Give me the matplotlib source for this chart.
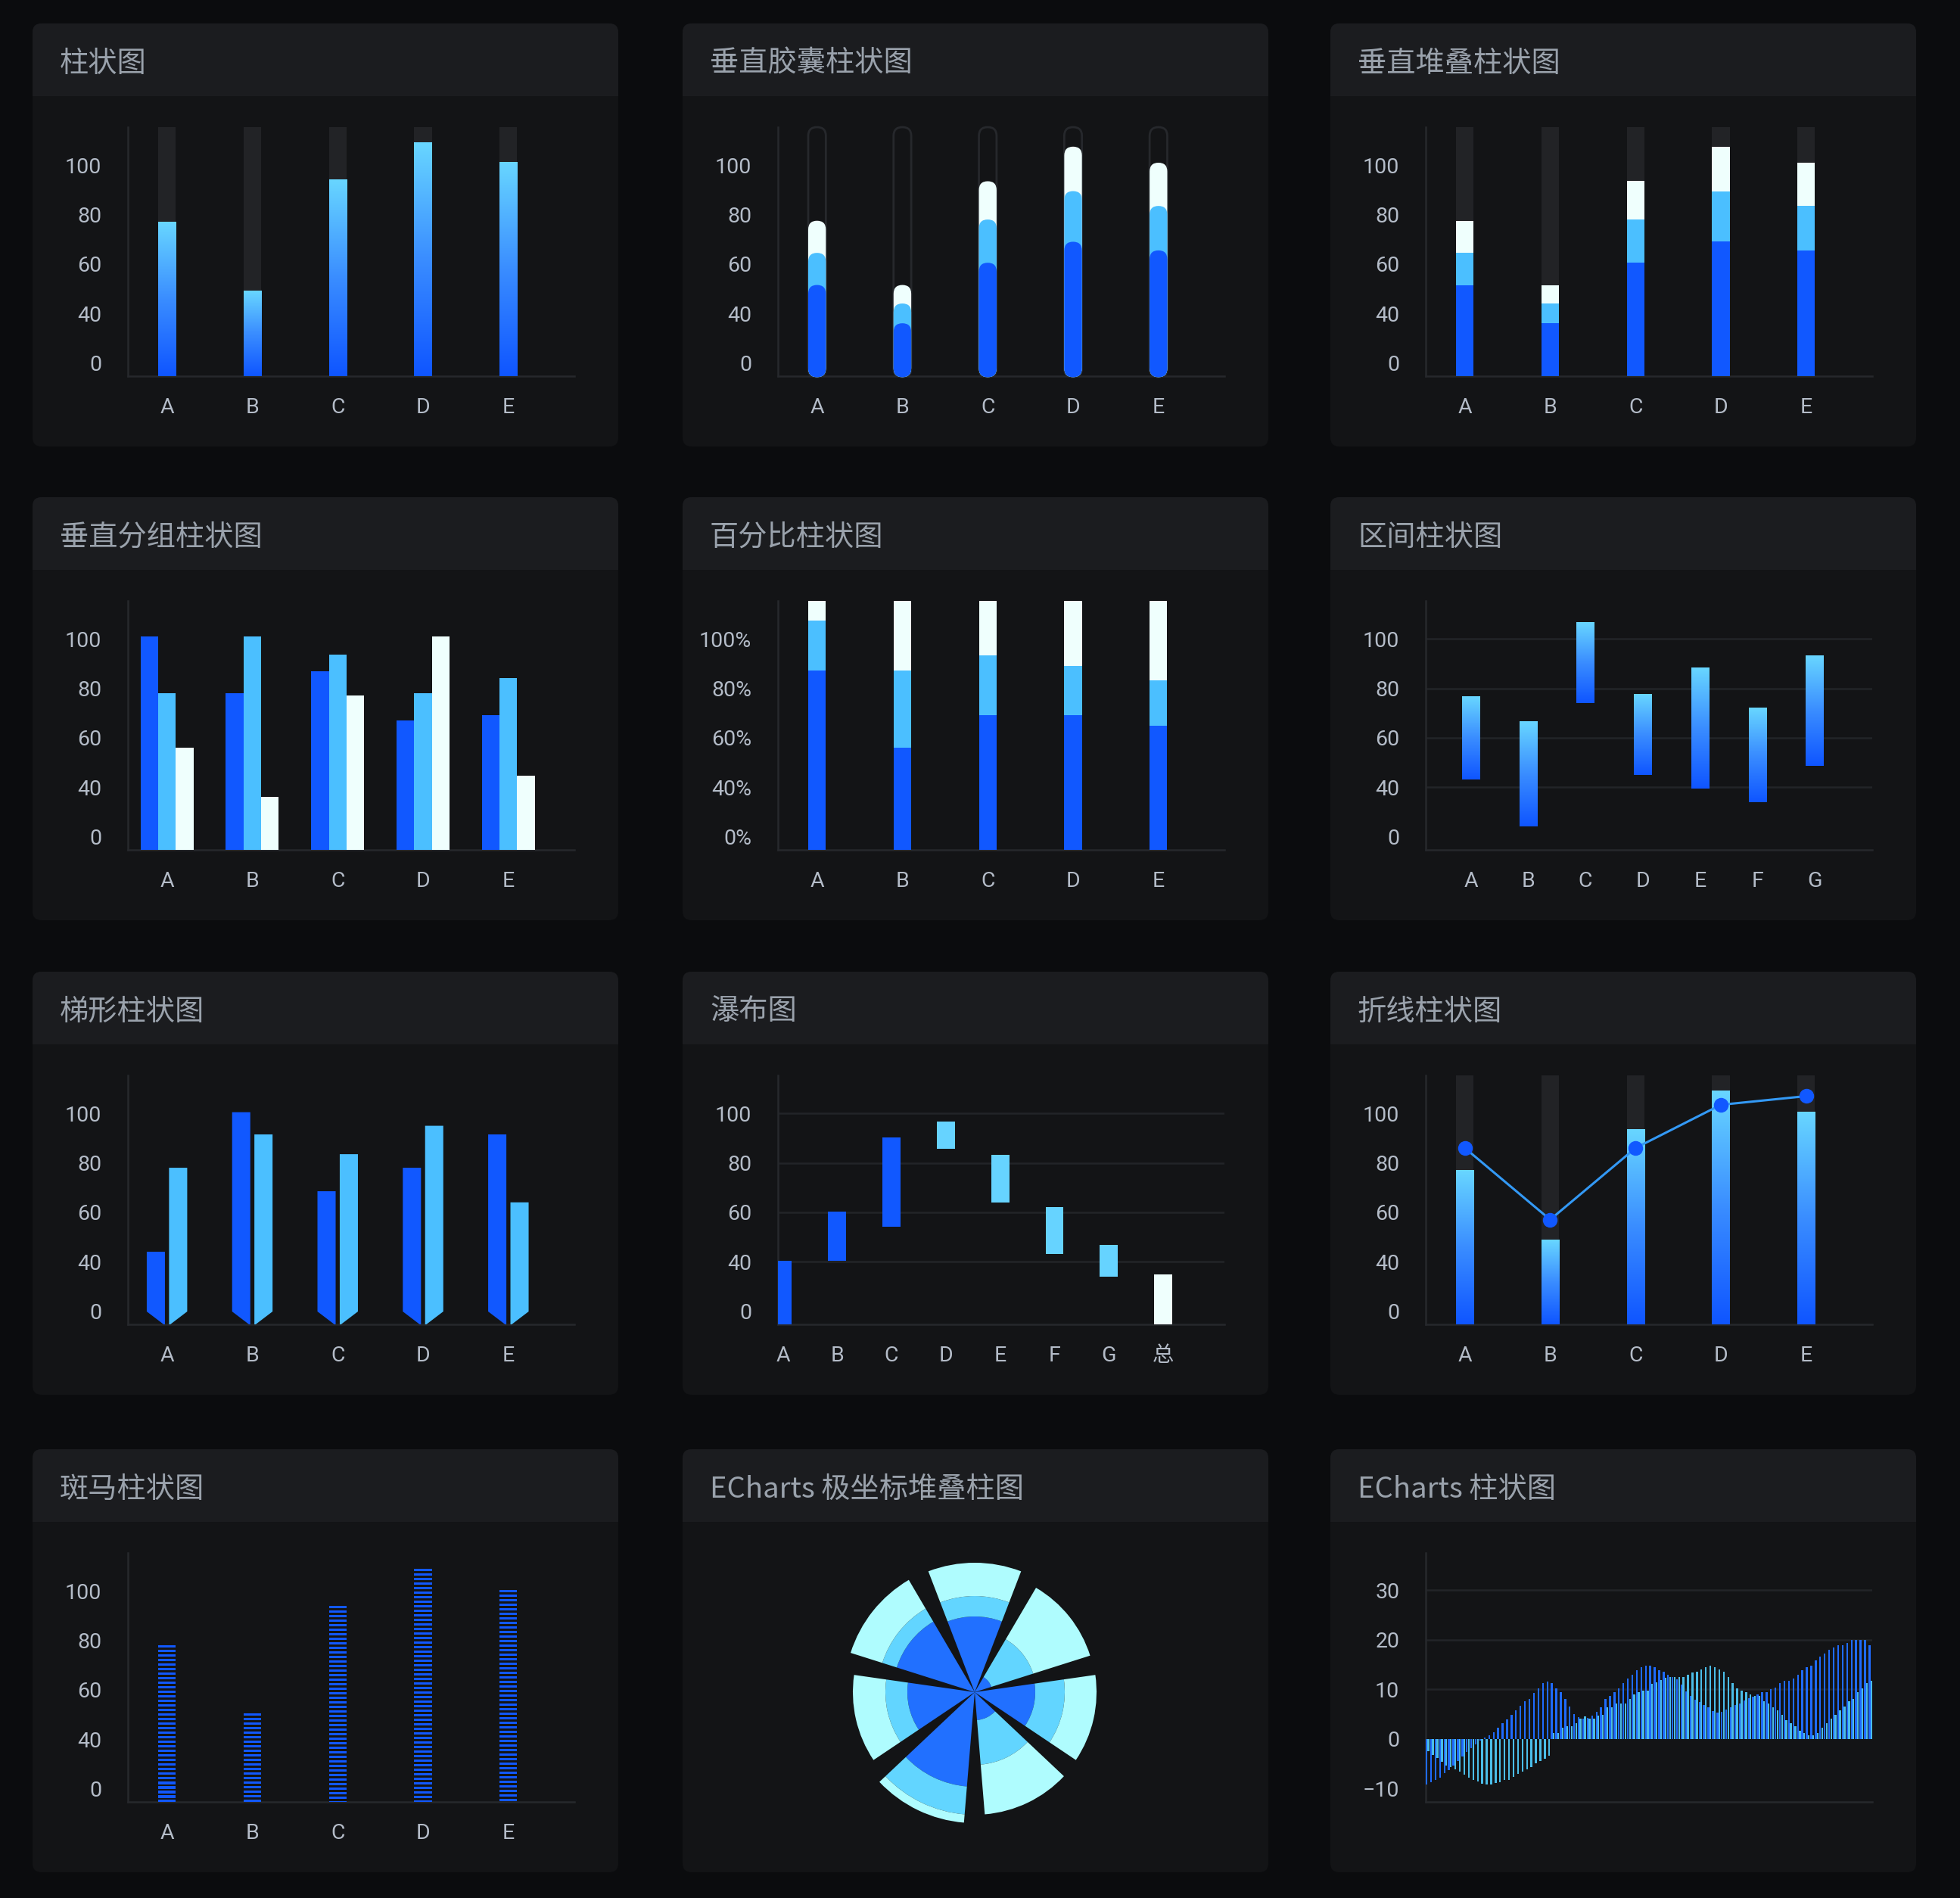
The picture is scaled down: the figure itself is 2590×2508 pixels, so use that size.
import numpy as np
import matplotlib
matplotlib.use('Agg')
import matplotlib.pyplot as plt
from matplotlib.patches import FancyBboxPatch, Rectangle, Polygon
from matplotlib.colors import LinearSegmentedColormap

plt.rcParams['font.family'] = ['Roboto', 'Noto Sans CJK SC', 'DejaVu Sans']

# ---------------- data ----------------
titles = ['柱状图', '垂直胶囊柱状图', '垂直堆叠柱状图',
          '垂直分组柱状图', '百分比柱状图', '区间柱状图',
          '梯形柱状图', '瀑布图', '折线柱状图',
          '斑马柱状图', 'ECharts 极坐标堆叠柱图', 'ECharts 柱状图']
categories = ['A', 'B', 'C', 'D', 'E']
range_categories = ['A', 'B', 'C', 'D', 'E', 'F', 'G']
waterfall_categories = ['A', 'B', 'C', 'D', 'E', 'F', 'G', '总']
tick_values = [20, 40, 60, 80, 100]
tick_labels = ['0', '40', '60', '80', '100']
pct_tick_labels = ['0%', '40%', '60%', '80%', '100%']

bar_values = [77, 49, 94, 109, 101]
capsule_blue = [51.5, 36, 60.5, 69, 65.5]
capsule_light = [13, 8, 17.5, 20.5, 18]
capsule_white = [13, 7.5, 15.5, 18, 17.5]
group_blue = [101, 78, 87, 67, 69]
group_light = [78, 101, 93.5, 78, 84]
group_white = [56, 36, 77, 101, 44.5]
pct_blue = [72, 41, 54, 54, 50]
pct_light = [20, 31, 24, 20, 18]
pct_white = [8, 28, 22, 26, 32]
range_low = [43, 24, 74, 45, 39.5, 34, 48.5]
range_high = [76.5, 66.5, 106.5, 77.5, 88.5, 72, 93]
trap_blue = [44, 100.5, 68.5, 78, 91.5]
trap_light = [78, 91.5, 83.5, 95, 64]
wf_low = [0, 40.3, 54, 85.8, 63.9, 43, 34, 0]
wf_high = [40.3, 60.2, 90.3, 96.8, 83.1, 62.2, 46.7, 34.8]
wf_kind = ['up', 'up', 'up', 'down', 'down', 'down', 'down', 'total']
linebar_bars = [77, 48.7, 93.4, 109, 100.6]
linebar_line = [86, 57, 86, 103.5, 107]
zebra_values = [78, 50.5, 94, 109, 100.5]
polar_dark = [10.0, 2.3, 8.0, 3.7, 12.5, 8.9, 10.8]
polar_mid = [2.7, 5.8, 3.9, 5.9, 3.7, 2.9, 2.0]
polar_light = [4.4, 7.9, 4.2, 6.6, 1.1, 4.3, 4.4]
echarts_a = [-9.2, -8.7, -8.3, -7.8, -6.9, -6.3, -5.4, -4.5, -3.6, -2.7,
             -1.9, -1.1, -0.4, 0.3, 0.8, 1.3, 2.2, 3.1, 3.9, 4.9,
             5.7, 6.7, 7.6, 8.1, 9.3, 10.2, 11.2, 11.6, 11.2, 10.2,
             9.4, 8.0, 6.6, 5.0, 4.4, 4.1, 4.2, 4.7, 5.5, 6.4,
             8.0, 8.6, 9.4, 10.2, 11.2, 12.1, 13.0, 13.9, 14.4, 14.7,
             14.7, 14.4, 13.9, 13.5, 13.0, 12.5, 12.0, 11.0, 9.6, 8.6,
             7.9, 7.4, 6.9, 6.3, 5.6, 5.3, 5.4, 5.9, 6.4, 6.8,
             7.2, 7.8, 8.2, 8.5, 9.0, 9.4, 9.4, 10.0, 10.4, 11.3,
             11.7, 11.7, 12.1, 13.0, 13.9, 14.4, 14.8, 15.8, 16.6, 17.2,
             18.0, 18.5, 18.9, 18.9, 19.3, 19.9, 19.9, 19.9, 19.9, 18.9]
echarts_b = [-2.5, -3.3, -3.8, -4.6, -5.3, -5.7, -6.1, -6.6, -7.2, -7.8,
             -8.3, -8.6, -9.0, -9.2, -9.2, -8.9, -8.7, -8.3, -8.2, -7.6,
             -7.1, -6.6, -6.2, -5.7, -4.9, -4.4, -4.0, -3.4, 1.2, 1.2,
             2.2, 2.6, 2.6, 3.1, 4.1, 4.5, 4.1, 4.1, 4.7, 4.9,
             6.3, 6.3, 7.1, 7.1, 7.1, 8.0, 9.0, 9.4, 9.8, 9.8,
             11.1, 11.4, 11.8, 12.3, 12.5, 12.5, 12.5, 12.5, 12.9, 13.4,
             13.5, 14.0, 14.4, 14.8, 14.4, 14.0, 13.5, 12.5, 11.2, 10.2,
             9.8, 9.4, 9.0, 8.6, 8.6, 7.6, 7.1, 6.3, 5.7, 4.9,
             3.8, 3.1, 2.5, 1.7, 1.2, 0.8, 0.8, 1.2, 2.2, 3.1,
             4.1, 4.9, 5.7, 6.6, 7.6, 8.0, 9.4, 10.2, 11.2, 11.7]
echarts_ticks = [-10, 0, 10, 20, 30]
echarts_tick_labels = ['\u221210', '0', '10', '20', '30']

# ---------------- style ----------------
W, H = 2590, 2508
FIG_BG = '#0b0c0e'
CARD_BG = '#131416'
HEAD_BG = '#1b1c1f'
BLUE = '#1158ff'
LIGHT = '#4bbfff'
WHITE = '#effffd'
CYAN = '#66d3ff'
SHADOW = '#222326'
AXIS = '#26282c'
GRID = '#222428'
TXT = '#b4bcc8'
TITLE = '#9aa2ac'
YLIM = (14.6, 115.4)

CARD_X = [43, 902, 1758]
CARD_Y = [31, 657, 1284, 1915]
CARD_W, CARD_H, HEAD_H = 774, 559, 96
AX_L, AX_T, AX_W, AX_H = 126, 137, 590, 329

grad_cmap = LinearSegmentedColormap.from_list('g', ['#0f55ff', '#3a8dff', '#68d6ff'])
grad_img = np.linspace(0, 1, 256).reshape(-1, 1)

fig = plt.figure(figsize=(W / 100, H / 100), dpi=100)
fig.patch.set_facecolor(FIG_BG)

bg = fig.add_axes([0, 0, 1, 1])
bg.set_xlim(0, W)
bg.set_ylim(H, 0)
bg.axis('off')
bg.set_zorder(-5)

for idx, title in enumerate(titles):
    r, c = divmod(idx, 3)
    x0, y0 = CARD_X[c], CARD_Y[r]
    bg.add_patch(FancyBboxPatch((x0, y0), CARD_W, CARD_H,
                                boxstyle='round,pad=0,rounding_size=12',
                                fc=CARD_BG, ec='none'))
    bg.add_patch(FancyBboxPatch((x0, y0), CARD_W, HEAD_H,
                                boxstyle='round,pad=0,rounding_size=12',
                                fc=HEAD_BG, ec='none'))
    bg.add_patch(Rectangle((x0, y0 + HEAD_H / 2), CARD_W, HEAD_H / 2,
                           fc=HEAD_BG, ec='none'))
    bg.text(x0 + 36, y0 + HEAD_H / 2 + 5, title, ha='left', va='center',
            fontsize=27.5, color=TITLE,
            family=['Noto Sans CJK SC', 'DejaVu Sans'])


def make_ax(r, c):
    x0, y0 = CARD_X[c], CARD_Y[r]
    return fig.add_axes([(x0 + AX_L) / W, 1 - (y0 + AX_T + AX_H) / H,
                         AX_W / W, AX_H / H])


def style_ax(ax, xlim, cats, ylim=YLIM, yt=tick_values, ytl=tick_labels):
    ax.set_facecolor('none')
    ax.set_xlim(*xlim)
    ax.set_ylim(*ylim)
    for s in ['top', 'right']:
        ax.spines[s].set_visible(False)
    for s in ['left', 'bottom']:
        ax.spines[s].set_color(AXIS)
        ax.spines[s].set_linewidth(1.8)
        ax.spines[s].set_zorder(1)
    ax.set_yticks(yt)
    ax.set_yticklabels(ytl)
    if cats is not None:
        ax.set_xticks(range(len(cats)))
        ax.set_xticklabels(cats)
    else:
        ax.set_xticks([])
    ax.tick_params(axis='both', length=0, colors=TXT, labelsize=20.5)
    ax.tick_params(axis='y', pad=25)
    ax.tick_params(axis='x', pad=20)


def gradient_bars(ax, x, bottoms, tops, width):
    bottoms = np.broadcast_to(np.asarray(bottoms, float), np.shape(tops))
    bars = ax.bar(x, np.asarray(tops, float) - bottoms, width, bottom=bottoms,
                  color='none', linewidth=0)
    for b in bars:
        bx, by = b.get_x(), b.get_y()
        ax.imshow(grad_img, cmap=grad_cmap, origin='lower', aspect='auto',
                  extent=(bx, bx + b.get_width(), by, by + b.get_height()),
                  zorder=3, interpolation='bilinear')


X5 = (-0.458, 4.773)
W5 = 0.207
x5 = np.arange(len(categories))

# 1. 柱状图
ax = make_ax(0, 0)
ax.bar(x5, YLIM[1], W5, color=SHADOW, zorder=2)
gradient_bars(ax, x5, YLIM[0], bar_values, W5)
style_ax(ax, X5, categories)

# 2. 垂直胶囊柱状图
ax = make_ax(0, 1)
style_ax(ax, X5, categories)
aspect = ((YLIM[1] - YLIM[0]) / AX_H) / ((X5[1] - X5[0]) / AX_W)
base = YLIM[0] - 0.4
cb = np.array(capsule_blue)
cl = cb + np.array(capsule_light)
cw = cl + np.array(capsule_white)
for i in x5:
    ax.add_patch(FancyBboxPatch((i - W5 / 2, base), W5, YLIM[1] - base,
                                boxstyle=f'round,pad=0,rounding_size={W5/2}',
                                mutation_aspect=aspect, fc='none', ec=AXIS,
                                lw=2, zorder=2, clip_on=False))
    for top, col in [(cw[i], WHITE), (cl[i], LIGHT), (cb[i], BLUE)]:
        ax.add_patch(FancyBboxPatch((i - W5 / 2, base), W5, top - base,
                                    boxstyle=f'round,pad=0,rounding_size={W5/2}',
                                    mutation_aspect=aspect, fc=col, ec='none',
                                    zorder=3, clip_on=False))

# 3. 垂直堆叠柱状图
ax = make_ax(0, 2)
ax.bar(x5, YLIM[1], W5, color=SHADOW, zorder=2)
ax.bar(x5, capsule_blue, W5, color=BLUE, zorder=3)
ax.bar(x5, capsule_light, W5, bottom=cb, color=LIGHT, zorder=3)
ax.bar(x5, capsule_white, W5, bottom=cl, color=WHITE, zorder=3)
style_ax(ax, X5, categories)

# 4. 垂直分组柱状图
ax = make_ax(1, 0)
ax.bar(x5 - W5, group_blue, W5, color=BLUE, zorder=3)
ax.bar(x5, group_light, W5, color=LIGHT, zorder=3)
ax.bar(x5 + W5, group_white, W5, color=WHITE, zorder=3)
style_ax(ax, X5, categories)

# 5. 百分比柱状图
ax = make_ax(1, 1)
pb = np.array(pct_blue, float)
pl = np.array(pct_light, float)
pw = np.array(pct_white, float)
ax.bar(x5, pb, W5, color=BLUE, zorder=3)
ax.bar(x5, pl, W5, bottom=pb, color=LIGHT, zorder=3)
ax.bar(x5, pw, W5, bottom=pb + pl, color=WHITE, zorder=3)
pct_ticks = [(v - YLIM[0]) / (YLIM[1] - YLIM[0]) * 100 for v in tick_values]
style_ax(ax, X5, categories, ylim=(0, 100), yt=pct_ticks, ytl=pct_tick_labels)

# 6. 区间柱状图
X7 = (-0.787, 7.003)
W7 = 0.31
x7 = np.arange(len(range_categories))
ax = make_ax(1, 2)
for v in tick_values[1:]:
    ax.axhline(v, color=GRID, lw=1.8, zorder=1)
gradient_bars(ax, x7, range_low, range_high, W7)
style_ax(ax, X7, range_categories)

# 7. 梯形柱状图
ax = make_ax(2, 0)
TW, TG, CUT = 0.213, 0.048, 5.6
low = YLIM[0] - 0.4
for i in x5:
    xl, xr = i - TG / 2 - TW, i - TG / 2
    ax.add_patch(Polygon([(xl, trap_blue[i]), (xr, trap_blue[i]), (xr, low),
                          (xl, low + CUT)], closed=True, fc=BLUE, ec='none',
                         zorder=3))
    xl, xr = i + TG / 2, i + TG / 2 + TW
    ax.add_patch(Polygon([(xl, low), (xr, low + CUT), (xr, trap_light[i]),
                          (xl, trap_light[i])], closed=True, fc=LIGHT,
                         ec='none', zorder=3))
style_ax(ax, X5, categories)

# 8. 瀑布图
X8 = (-0.09, 8.126)
W8 = 0.332
x8 = np.arange(len(waterfall_categories))
ax = make_ax(2, 1)
for v in tick_values[1:]:
    ax.axhline(v, color=GRID, lw=1.8, zorder=1)
kind_color = {'up': BLUE, 'down': CYAN, 'total': WHITE}
wl = np.array(wf_low, float)
wh = np.array(wf_high, float)
ax.bar(x8, wh - wl, W8, bottom=wl, color=[kind_color[k] for k in wf_kind],
       zorder=3)
style_ax(ax, X8, waterfall_categories)

# 9. 折线柱状图
ax = make_ax(2, 2)
ax.bar(x5, YLIM[1], W5, color=SHADOW, zorder=2)
gradient_bars(ax, x5, YLIM[0], linebar_bars, W5)
ax.plot(x5, linebar_line, color='#3399f5', lw=2.2, marker='o', ms=13,
        mfc=BLUE, mec=BLUE, zorder=5)
style_ax(ax, X5, categories)

# 10. 斑马柱状图
ax = make_ax(3, 0)
PERIOD, THICK = 1.84, 1.0
for i, v in enumerate(zebra_values):
    tops = np.arange(v, YLIM[0] - 1.0, -PERIOD)
    ax.bar(np.full(len(tops), i), THICK, W5, bottom=tops - THICK, color=BLUE,
           zorder=3)
style_ax(ax, X5, categories)

# 11. ECharts 极坐标堆叠柱图
cx, cy, R = 1288, 2236, 175
pax = fig.add_axes([(cx - R) / W, 1 - (cy + R) / H, 2 * R / W, 2 * R / H],
                   projection='polar')
pax.set_theta_zero_location('N')
pax.set_theta_direction(-1)
theta = np.arange(len(polar_dark)) * 2 * np.pi / len(polar_dark)
sw = np.deg2rad(42)
pd_ = np.array(polar_dark)
pm_ = np.array(polar_mid)
pl_ = np.array(polar_light)
pax.bar(theta, pd_, width=sw, color='#2170ff', linewidth=0)
pax.bar(theta, pm_, width=sw, bottom=pd_, color='#62d5ff', linewidth=0)
pax.bar(theta, pl_, width=sw, bottom=pd_ + pm_, color='#affcfe', linewidth=0)
pax.set_ylim(0, 17.5)
pax.axis('off')
pax.patch.set_alpha(0)

# 12. ECharts 柱状图
ax = make_ax(3, 2)
xe = np.arange(len(echarts_a))
for v in echarts_ticks[2:]:
    ax.axhline(v, color=GRID, lw=1.8, zorder=1)
ax.bar(xe - 0.22, echarts_a, 0.4, color='#1f6bff', zorder=3, linewidth=0)
ax.bar(xe + 0.22, echarts_b, 0.4, color='#4bbde8', zorder=3, linewidth=0)
style_ax(ax, (-0.4, len(echarts_a) - 0.6), None, ylim=(-12.7, 37.5),
         yt=echarts_ticks, ytl=echarts_tick_labels)

fig.savefig('out.png', dpi=100, facecolor=fig.get_facecolor())
